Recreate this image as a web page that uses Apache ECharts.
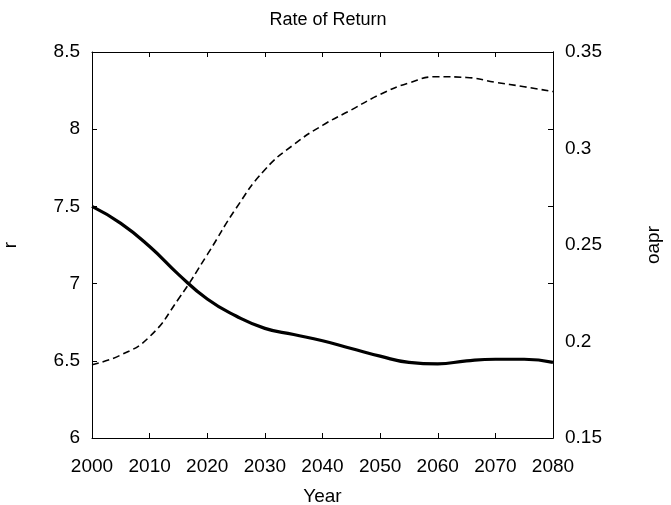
<!DOCTYPE html>
<html>
<head>
<meta charset="utf-8">
<title>Rate of Return</title>
<script src="https://cdn.jsdelivr.net/npm/echarts@6/dist/echarts.min.js"></script>
<style>
  html, body { margin: 0; padding: 0; background: #fff; }
  #chart { width: 671px; height: 505px; }
</style>
</head>
<body>
<div id="chart"></div>
<script>
// data
var years = [2000, 2005, 2010, 2015, 2020, 2025, 2030, 2035, 2040, 2045, 2050, 2055, 2060, 2065, 2070, 2075, 2080];
var rValues = [7.50, 7.39, 7.24, 7.06, 6.90, 6.79, 6.71, 6.67, 6.63, 6.58, 6.53, 6.49, 6.48, 6.50, 6.51, 6.51, 6.49];
var oaprValues = [0.188, 0.193, 0.2025, 0.222, 0.245, 0.269, 0.289, 0.302, 0.312, 0.320, 0.328, 0.334, 0.3372, 0.3368, 0.3343, 0.332, 0.3295];
var xTicks = [2000, 2010, 2020, 2030, 2040, 2050, 2060, 2070, 2080];
var rTicks = [6, 6.5, 7, 7.5, 8, 8.5];
var oaprTicks = [0.15, 0.2, 0.25, 0.3, 0.35];

var chart = echarts.init(document.getElementById('chart'));
var font = 'Liberation Sans, Arial, sans-serif';
var fs = 19;
var line = { show: true, lineStyle: { color: '#000', width: 1 } };

chart.setOption({
  backgroundColor: '#fff',
  animation: false,
  title: {
    text: 'Rate of Return',
    left: 323,
    textAlign: 'center',
    top: 6,
    textStyle: { fontFamily: font, fontSize: 18, fontWeight: 'normal', color: '#000' }
  },
  grid: { left: 92, right: 118, top: 52, bottom: 67, containLabel: false, outerBoundsMode: 'none' },
  xAxis: [
    {
      type: 'value',
      min: xTicks[0],
      max: xTicks[xTicks.length - 1],
      interval: 10,
      name: 'Year',
      nameLocation: 'middle',
      nameGap: 49,
      nameTextStyle: { fontFamily: font, fontSize: fs, color: '#000' },
      axisLine: line,
      axisTick: { show: true, inside: true, length: 5, lineStyle: { color: '#000' } },
      axisLabel: { fontFamily: font, fontSize: fs, color: '#000', margin: 19, formatter: function (v) { return String(v); } },
      splitLine: { show: false }
    },
    {
      // mirrored ticks on top
      type: 'value',
      position: 'top',
      min: xTicks[0],
      max: xTicks[xTicks.length - 1],
      interval: 10,
      axisLine: line,
      axisTick: { show: true, inside: true, length: 5, lineStyle: { color: '#000' } },
      axisLabel: { show: false },
      splitLine: { show: false }
    }
  ],
  yAxis: [
    {
      type: 'value',
      position: 'left',
      min: rTicks[0],
      max: rTicks[rTicks.length - 1],
      interval: 0.5,
      name: 'r',
      nameLocation: 'middle',
      nameRotate: 90,
      nameGap: 72,
      nameTextStyle: { fontFamily: font, fontSize: fs, color: '#000' },
      axisLine: line,
      axisTick: { show: true, inside: true, length: 5, lineStyle: { color: '#000' } },
      axisLabel: { fontFamily: font, fontSize: fs, color: '#000', margin: 12 },
      splitLine: { show: false }
    },
    {
      type: 'value',
      position: 'right',
      min: oaprTicks[0],
      max: oaprTicks[oaprTicks.length - 1],
      interval: 0.05,
      name: 'oapr',
      nameLocation: 'middle',
      nameRotate: 90,
      nameGap: 91,
      nameTextStyle: { fontFamily: font, fontSize: fs, color: '#000' },
      axisLine: line,
      axisTick: { show: false },
      axisLabel: { fontFamily: font, fontSize: fs, color: '#000', margin: 12 },
      splitLine: { show: false }
    },
    {
      // left ticks mirrored on the right side
      type: 'value',
      position: 'right',
      min: rTicks[0],
      max: rTicks[rTicks.length - 1],
      interval: 0.5,
      axisLine: line,
      axisTick: { show: true, inside: true, length: 5, lineStyle: { color: '#000' } },
      axisLabel: { show: false },
      splitLine: { show: false }
    }
  ],
  series: [
    {
      name: 'r',
      type: 'line',
      xAxisIndex: 0,
      yAxisIndex: 0,
      smooth: true,
      showSymbol: false,
      lineStyle: { color: '#000', width: 3.2 },
      data: years.map(function (y, i) { return [y, rValues[i]]; })
    },
    {
      name: 'oapr',
      type: 'line',
      xAxisIndex: 0,
      yAxisIndex: 1,
      smooth: true,
      showSymbol: false,
      lineStyle: { color: '#000', width: 1.6, type: [7, 4] },
      data: years.map(function (y, i) { return [y, oaprValues[i]]; })
    }
  ]
});
</script>
</body>
</html>
